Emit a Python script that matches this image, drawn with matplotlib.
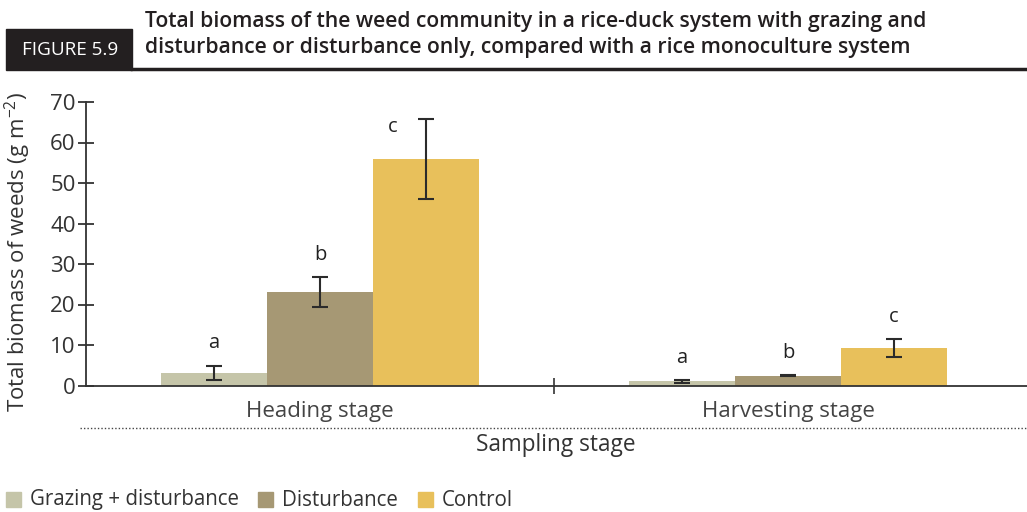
import numpy as np
import matplotlib.pyplot as plt
from matplotlib.lines import Line2D
from matplotlib.patches import Rectangle

# Weed biomass (g m-2) by treatment and sampling stage
stages = ['Heading stage', 'Harvesting stage']
treatments = ['Grazing + disturbance', 'Disturbance', 'Control']
biomass = {
    'Grazing + disturbance': [3.1, 1.0],
    'Disturbance': [23.1, 2.4],
    'Control': [55.9, 9.3],
}
errors = {
    'Grazing + disturbance': [1.8, 0.3],
    'Disturbance': [3.7, 0.15],
    'Control': [9.9, 2.2],
}
letters = {
    'Grazing + disturbance': ['a', 'a'],
    'Disturbance': ['b', 'b'],
    'Control': ['c', 'c'],
}
colors = ['#c5c5a9', '#a69874', '#e8c05b']
yticks = [0, 10, 20, 30, 40, 50, 60, 70]

TEXT = '#333333'
plt.rcParams['font.family'] = ['Open Sans', 'DejaVu Sans']
plt.rcParams['mathtext.default'] = 'regular'

fig = plt.figure(figsize=(10.27, 5.12), dpi=100)
ax = fig.add_axes([86 / 1027, 1 - 385.5 / 512, 1 - 86 / 1027, (385.5 - 102) / 512])

x = np.arange(len(stages))
width = 0.2265
for i, (name, col) in enumerate(zip(treatments, colors)):
    xs = x + (i - 1) * width
    ax.bar(xs, biomass[name], width=width, color=col, zorder=2)
    ax.errorbar(xs, biomass[name], yerr=errors[name], fmt='none',
                ecolor='#2b2b2b', elinewidth=1.5, capsize=5.5, capthick=1.5, zorder=3)
    for k, (xx, v, e, lab) in enumerate(zip(xs, biomass[name], errors[name], letters[name])):
        off = (0, 16)
        if v + e > 62:
            off = (-24, -6)
        ax.annotate(lab, (xx, v + e), xytext=off, textcoords='offset points',
                    ha='center', va='center', fontsize=14.5, color='#222222')

ax.set_xlim(-0.5, 1.5107)
ax.set_ylim(0, 70)
ax.set_yticks(yticks)
for s in ['top', 'right']:
    ax.spines[s].set_visible(False)
for s in ['left', 'bottom']:
    ax.spines[s].set_color(TEXT)
    ax.spines[s].set_linewidth(1.3)
ax.tick_params(axis='y', direction='inout', length=11, width=1.3, color=TEXT,
               labelsize=16, labelcolor=TEXT, pad=2)
ax.set_xticks([0.5])
ax.set_xticklabels([''])
ax.tick_params(axis='x', which='major', direction='inout', length=12, width=1.2, color=TEXT)
ax.set_xticks(x, minor=True)
ax.set_xticklabels(stages, minor=True)
ax.tick_params(axis='x', which='minor', length=0, labelsize=16, labelcolor='#444444', pad=11)

fig.text(18 / 1027, 1 - 252 / 512, 'Total biomass of weeds (g m$^{-2}$)', rotation=90,
         ha='center', va='center', fontsize=16, color=TEXT)

# dotted rule and axis title
fig.add_artist(Line2D([80 / 1027, 1.0], [1 - 428 / 512] * 2, color='#444444',
                      lw=1, linestyle=(0, (1, 1.5))))
fig.text(556 / 1027, 1 - 445 / 512, 'Sampling stage', ha='center', va='center',
         fontsize=16.3, color=TEXT)

# header
fig.add_artist(Rectangle((6 / 1027, 1 - 70 / 512), 126 / 1027, 41 / 512,
                         transform=fig.transFigure, color='#231f20'))
fig.text(70 / 1027, 1 - 50 / 512, 'FIGURE 5.9', ha='center', va='center',
         fontsize=13.6, color='white')
fig.add_artist(Line2D([132 / 1027, 1.0], [1 - 69 / 512] * 2, color='#231f20', lw=2.5))
fig.text(145 / 1027, 1 - 22 / 512, 'Total biomass of the weed community in a rice-duck system with grazing and',
         ha='left', va='center', fontsize=15.2, fontweight='semibold', color='#231f20')
fig.text(145 / 1027, 1 - 48 / 512, 'disturbance or disturbance only, compared with a rice monoculture system',
         ha='left', va='center', fontsize=15.2, fontweight='semibold', color='#231f20')

# legend
leg_x = [6, 258, 418]
for lx, name, col in zip(leg_x, treatments, colors):
    fig.add_artist(Rectangle((lx / 1027, 1 - 507 / 512), 15 / 1027, 15 / 512,
                             transform=fig.transFigure, color=col))
    fig.text((lx + 24) / 1027, 1 - 500 / 512, name, ha='left', va='center',
             fontsize=14.8, color=TEXT)

fig.savefig('out.png', dpi=100, facecolor='white')
